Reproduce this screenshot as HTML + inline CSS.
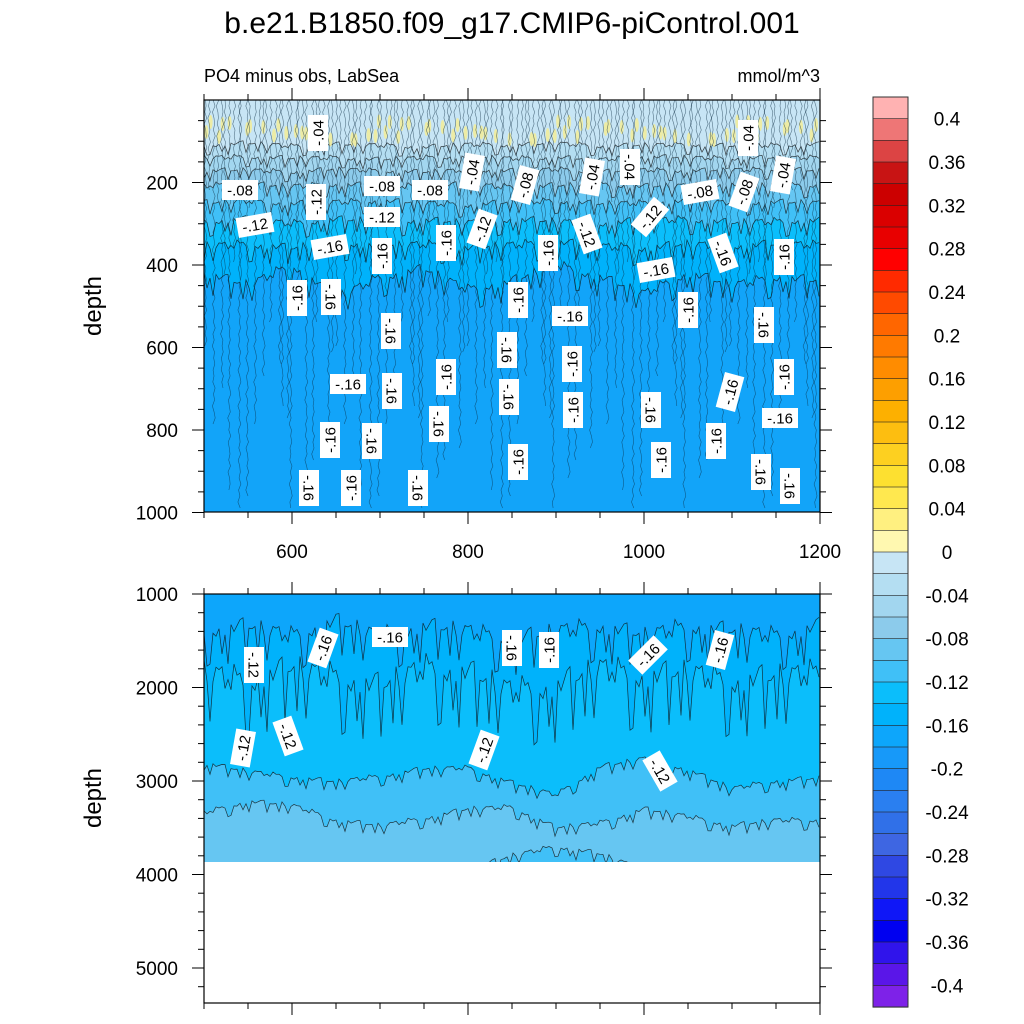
<!DOCTYPE html>
<html><head><meta charset="utf-8"><style>
body{margin:0;background:#fff;}
svg{display:block;font-family:"Liberation Sans",sans-serif;}
</style></head><body>
<svg id="chart" width="1024" height="1024" viewBox="0 0 1024 1024" xmlns="http://www.w3.org/2000/svg">
<text x="512" y="33" font-size="30" text-anchor="middle">b.e21.B1850.f09_g17.CMIP6-piControl.001</text>
<text x="204" y="82" font-size="18">PO4 minus obs, LabSea</text>
<text x="820" y="82" font-size="18" text-anchor="end">mmol/m^3</text>
<text transform="translate(101,306) rotate(-90)" font-size="24" text-anchor="middle">depth</text>
<text transform="translate(101,798) rotate(-90)" font-size="24" text-anchor="middle">depth</text>
<defs>
<clipPath id="clipTop"><rect x="204" y="100" width="616" height="412"/></clipPath>
<clipPath id="clipBot"><rect x="204" y="594" width="616" height="268"/></clipPath>
</defs>
<g id="topPanel" clip-path="url(#clipTop)"></g>
<g id="botPanel" clip-path="url(#clipBot)"></g>
<g id="labels"></g>
<g id="axes"></g>
<g id="cbar"></g>
</svg>
<script>
// ---- data ----
const years = [500,550,600,650,700,750,800,850,900,950,1000,1050,1100,1150,1200];
const topLevels = [-0.02,-0.04,-0.06,-0.08,-0.10,-0.12,-0.14,-0.16];
const topDepthM02 = [110,105,112,108,110,115,108,110,105,112,110,108,112,110,108];
const topDepthM04 = [140,138,142,140,145,140,138,142,140,145,138,140,142,140,140];
const topDepthM06 = [172,170,175,168,172,175,170,172,168,175,170,172,170,168,172];
const topDepthM08 = [208,205,210,205,208,210,205,212,208,205,210,208,205,210,206];
const topDepthM10 = [250,245,252,248,245,250,255,248,245,252,250,245,250,248,250];
const topDepthM12 = [295,290,300,290,295,292,298,290,295,300,292,290,298,295,292];
const topDepthM14 = [355,350,360,345,355,350,360,352,345,355,360,350,355,350,352];
const topDepthM16 = [420,450,400,480,430,410,460,440,400,430,470,420,450,430,440];
const botLevels = [-0.16,-0.14,-0.12,-0.10,-0.10];
const botDepthM16 = [1400,1350,1450,1300,1450,1350,1400,1500,1400,1350,1450,1350,1400,1450,1350];
const botDepthM14 = [1850,1950,1800,1900,2000,1800,1850,2050,2000,1800,1900,1850,1950,1900,1850];
const botDepthM12 = [2810,2900,2960,3010,2950,2870,2860,3020,3150,2850,2760,2880,3080,3000,2970];
const botDepthM10 = [3340,3220,3260,3420,3480,3400,3300,3280,3500,3450,3300,3380,3480,3420,3420];
const botDepthM10b = [3950,3950,3950,3950,3950,3950,3950,3800,3700,3780,3950,3950,3950,3950,3950];
const cbarTicks = [0.4,0.36,0.32,0.28,0.24,0.2,0.16,0.12,0.08,0.04,0,-0.04,-0.08,-0.12,-0.16,-0.2,-0.24,-0.28,-0.32,-0.36,-0.4];
const xTicks = [600,800,1000,1200];
const yTopTicks = [200,400,600,800,1000];
const yBotTicks = [1000,2000,3000,4000,5000];

// ---- styles ----
const cbarColors = ["#ffb2b2","#ee7676","#dc4444","#c81414","#cc0000","#da0000","#e80000","#ff0000","#ff2a00","#ff4a00","#ff6600","#ff7a00","#ff8c00","#fd9f00","#fdb000","#fdbe10","#fdd020","#fde030","#ffe84f","#fff080","#fff8b0",
"#c7e5f5","#b4def2","#a2d6ef","#8ccbeb","#66c6f2","#40c0f7","#0bbefb","#00b2fb","#0da6fb","#1799f9","#1e88f5","#2a7ff0","#3070e8","#3e66e2","#2f48e3","#2236ea","#0f17f7","#0000f0","#3014eb","#5a16e8","#7e22e8"];
// band index for interval (v, v+0.02) => values above level v (less negative)
function bandAbove(v){ return cbarColors[21 + Math.round(-(v+0.02)/0.02)]; }
// band for interval (v-0.02, v)
function bandBelow(v){ return cbarColors[21 + Math.round(-v/0.02)]; }
const wig = [0.2,-0.5,0.9,-0.1,0.6,-0.8,0.3,1,-0.4,0.1,0.7,-0.9,0.4,-0.2,0.95,-0.6,0.1,0.5,-0.3,0.85,-0.7,0.25,0.6,-0.15,1,-0.45,0.35,-0.85,0.55,0.05,0.75,-0.35];
const NS = "http://www.w3.org/2000/svg";
function mk(tag, attrs, parent){const e=document.createElementNS(NS,tag);for(const k in attrs)e.setAttribute(k,attrs[k]);parent.appendChild(e);return e;}
const xS = y => 204 + (y-500)*616/700;
const yT = d => 100 + d*0.4125;
const yB = d => 594 + (d-1000)*0.0935;
function interp(arr, yr){const t=(yr-500)/50;const i=Math.min(Math.floor(t),arr.length-2);const f=t-i;return arr[i]*(1-f)+arr[i+1]*f;}

function drawPanel(g, depths, colors, yF, top, bottom, deepColor, amps){
  mk('rect',{x:204,y:top,width:616,height:bottom-top,fill:deepColor},g);
  for(let k=depths.length-1;k>=0;k--){
    let pts=[]; let n=0; const amp=amps[k];
    for(let px=204;px<=820;px+=3){
      const yr=500+(px-204)*700/616;
      const w=wig[(n*7+k*5)%wig.length];
      const yy=yF(interp(depths[k],yr))+amp*(w>0.6?w*2.5:w*0.8);
      pts.push(px.toFixed(1)+','+yy.toFixed(1)); n++;
    }
    const fillPts = '204,'+top+' '+pts.join(' ')+' 820,'+top;
    const p=mk('polygon',{points:fillPts,fill:colors[k]},g);
    
    
    const l=mk('polyline',{points:pts.join(' '),fill:'none',stroke:'#111','stroke-width':0.7,'stroke-opacity':0.8},g);
    
    
  }
}
const tg=document.getElementById('topPanel');
drawPanel(tg, [topDepthM02,topDepthM04,topDepthM06,topDepthM08,topDepthM10,topDepthM12,topDepthM14,topDepthM16],
  topLevels.map(bandAbove), yT, 100, 512, "#12a4f9", [4,4,4,5,5,6,7,8]);
// yellow speckles (positive values near surface)
for(let i=0;i<110;i++){
  const x=206+i*5.6+wig[i%wig.length]*2;
  if(wig[(i*3)%wig.length]>-0.2){
    const e=mk('ellipse',{cx:x,cy:130+wig[(i*5)%wig.length]*10,rx:2,ry:7,fill:'#f1ec9c','fill-opacity':0.9},tg);
    
    
  }
}
// dense vertical contour texture
for(let i=0;i<150;i++){
  const x=205+i*4.1+wig[(i*3)%wig.length]*1.5;
  let pts=[];
  const yEnd = 100 + (wig[(i*11)%wig.length]+1)*0.5*(412);
  for(let y=100;y<=Math.max(yEnd,190);y+=6){pts.push((x+wig[(y/6+i)%wig.length|0]*1.6).toFixed(1)+','+y);}
  const l=mk('polyline',{points:pts.join(' '),fill:'none',stroke:'#0a2a40','stroke-width':0.6,'stroke-opacity':0.6},tg);
  
  
}
const bg=document.getElementById('botPanel');
const botColors=[bandBelow(-0.16),bandBelow(-0.14),bandBelow(-0.12),bandBelow(-0.10),"#66c6f2"];
drawPanel(bg, [botDepthM16,botDepthM14,botDepthM12,botDepthM10,botDepthM10b], botColors, yB, 594, 862, "#40c0f7", [14,22,4,4,4]);
</script>
<script>
// labels
const lg=document.getElementById('labels');
const labs=[["-.04",318,133,-90],["-.04",748,138,-90],["-.04",472,172,-80],["-.04",592,177,-80],["-.04",630,167,90],["-.04",783,175,-80],
["-.08",240,190,0],["-.08",382,186,0],["-.08",430,190,0],["-.08",525,185,-75],["-.08",700,192,-10],["-.08",744,192,-70],
["-.12",255,225,-10],["-.12",316,202,-90],["-.12",382,217,0],["-.12",482,229,-70],["-.12",587,234,70],["-.12",650,217,-50],
["-.16",330,247,-10],["-.16",382,256,-90],["-.16",446,243,-90],["-.16",548,253,-90],["-.16",723,253,70],["-.16",784,257,-90],["-.16",656,270,-10],
["-.16",297,298,-90],["-.16",331,297,90],["-.16",518,300,-90],["-.16",570,316,0],["-.16",688,310,-90],["-.16",764,325,90],
["-.16",391,331,90],["-.16",507,350,90],["-.16",572,364,-90],["-.16",348,384,0],["-.16",392,391,90],["-.16",446,377,-90],["-.16",509,397,90],["-.16",573,410,-90],["-.16",651,410,90],["-.16",730,392,-75],["-.16",784,377,-90],["-.16",780,418,0],["-.16",330,440,-90],["-.16",372,441,90],["-.16",439,424,90],["-.16",716,441,-90],["-.16",518,462,-90],["-.16",661,460,-90],["-.16",761,472,90],["-.16",790,486,90],["-.16",309,488,90],["-.16",351,488,-90],["-.16",418,488,90],
["-.12",254,665,90],["-.16",323,648,-70],["-.16",390,637,0],["-.16",512,648,90],["-.16",549,650,-90],["-.16",648,655,-45],["-.16",720,650,-75],["-.12",243,748,-80],["-.12",288,736,70],["-.12",484,750,-70],["-.12",660,771,60]];
for(const [t,x,y,r] of labs){
  const g=mk('g',{transform:`translate(${x},${y}) rotate(${r})`},lg);
  
  
  mk('rect',{x:-18,y:-10,width:36,height:20,fill:'#fff'},g);
  const tx=mk('text',{x:0,y:5.5,'font-size':15,'text-anchor':'middle'},g);
  tx.textContent=t;
}
// axes
const ax=document.getElementById('axes');
function frame(top,bottom){
  mk('rect',{x:204,y:top,width:616,height:bottom-top,fill:'none',stroke:'#000','stroke-width':1.2},ax);
}
frame(100,512); frame(594,1003);
function tick(x1,y1,x2,y2){mk('line',{x1,y1,x2,y2,stroke:'#000','stroke-width':1},ax);}
for(let yr=500;yr<=1200;yr+=50){
  const x=xS(yr); const major=xTicks.includes(yr);
  const L=major?12:6;
  tick(x,100,x,100-L); tick(x,512,x,512+L); tick(x,594,x,594-L); tick(x,1003,x,1003+L);
}
for(const v of xTicks){
  const t=mk('text',{x:xS(v),y:558,'font-size':19,'text-anchor':'middle'},ax);
  
  
  t.textContent=v;
}
for(let d=50;d<=1000;d+=50){
  const y=yT(d); const major=yTopTicks.includes(d); const L=major?12:6;
  tick(204,y,204-L,y); tick(820,y,820+L,y);
}
for(const v of yTopTicks){
  const t=mk('text',{x:178,y:yT(v)+7,'font-size':19,'text-anchor':'end'},ax);
  
  
  t.textContent=v;
}
for(let d=1000;d<=5300;d+=200){
  const y=yB(d); const major=yBotTicks.includes(d); const L=major?12:6;
  tick(204,y,204-L,y); tick(820,y,820+L,y);
}
for(const v of yBotTicks){
  const t=mk('text',{x:178,y:yB(v)+7,'font-size':19,'text-anchor':'end'},ax);
  
  
  t.textContent=v;
}
// colorbar
const cb=document.getElementById('cbar');
const bh=910/42;
cbarColors.forEach((c,i)=>{
  const r=mk('rect',{x:873,y:97+i*bh,width:35,height:bh+0.3,fill:c,stroke:'#222','stroke-width':0.6},cb);
  
  
});
mk('rect',{x:873,y:97,width:35,height:910,fill:'none',stroke:'#333','stroke-width':1},cb);
cbarTicks.forEach((v,i)=>{
  const y=97+(1+2*i)*bh;
  const t=mk('text',{x:947,y:y+7,'font-size':19,'text-anchor':'middle'},cb);
  
  
  t.textContent = String(v);
});
</script>
</body></html>
